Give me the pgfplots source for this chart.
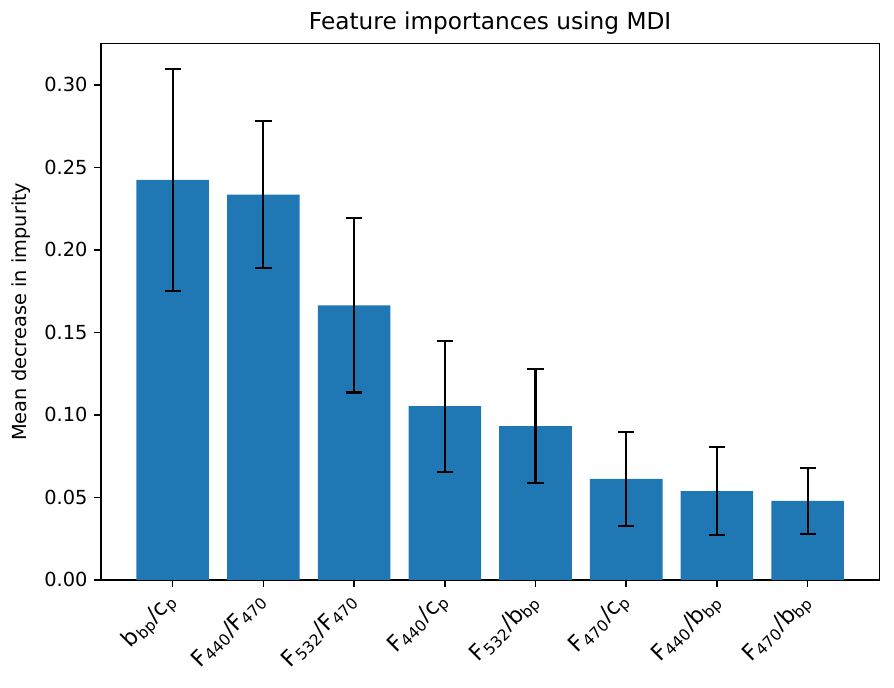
\documentclass[border=0pt]{standalone}
\usepackage{fontspec}
\setmainfont{DejaVu Sans}
\usepackage{pgfplots}
\usepackage{pgfplotstable}
\pgfplotsset{compat=1.18}
\definecolor{tabblue}{HTML}{1F77B4}

% importances and their spread (std over trees)
\pgfplotstableread{
x  imp     err
0  0.2424  0.0672
1  0.2334  0.0445
2  0.1663  0.0528
3  0.1052  0.0397
4  0.0931  0.0346
5  0.0611  0.0285
6  0.0538  0.0268
7  0.0478  0.0200
}\importances

\begin{document}
\fontsize{10}{12}\selectfont
\begin{tikzpicture}
  \begin{axis}[
    scale only axis,
    width=402pt, height=277pt,
    xmin=-0.79, xmax=7.79,
    ymin=0, ymax=0.325,
    axis line style={line width=0.8pt},
    tick style={line width=0.8pt, black},
    tick align=outside,
    major tick length=3.5pt,
    xtick pos=bottom, ytick pos=left,
    xtick=data,
    xticklabels={
      b\textsubscript{bp}/c\textsubscript{p},
      F\textsubscript{440}/F\textsubscript{470},
      F\textsubscript{532}/F\textsubscript{470},
      F\textsubscript{440}/c\textsubscript{p},
      F\textsubscript{532}/b\textsubscript{bp},
      F\textsubscript{470}/c\textsubscript{p},
      F\textsubscript{440}/b\textsubscript{bp},
      F\textsubscript{470}/b\textsubscript{bp}},
    xticklabel style={xshift=-4pt, rotate=45, anchor=north east, inner sep=1pt,
      font=\fontsize{11.5}{13}\selectfont},
    ytick={0,0.05,...,0.30},
    yticklabel style={/pgf/number format/fixed, /pgf/number format/fixed zerofill,
      /pgf/number format/precision=2, /pgf/number format/assume math mode=true,
      font=\fontsize{10}{12}\selectfont},
    ylabel={Mean decrease in impurity},
    ylabel near ticks,
    ylabel style={font=\fontsize{10}{12}\selectfont},
    title={Feature importances using MDI},
    title style={font=\fontsize{12}{14}\selectfont, yshift=-5pt},
  ]
    \addplot[ybar, bar width=0.8, bar shift=0pt, fill=tabblue, draw=none,
      error bars/.cd, y dir=both, y explicit, error mark=-,
      error bar style={line width=1.1pt, draw=black},
      error mark options={rotate=90, line width=1.1pt, draw=black, mark size=4.2pt}]
      table[x=x, y=imp, y error=err] {\importances};
  \end{axis}
  \path ([shift={(-3pt,-7.2pt)}]current bounding box.south west)
    rectangle ([shift={(7.2pt,3pt)}]current bounding box.north east);
\end{tikzpicture}
\end{document}
